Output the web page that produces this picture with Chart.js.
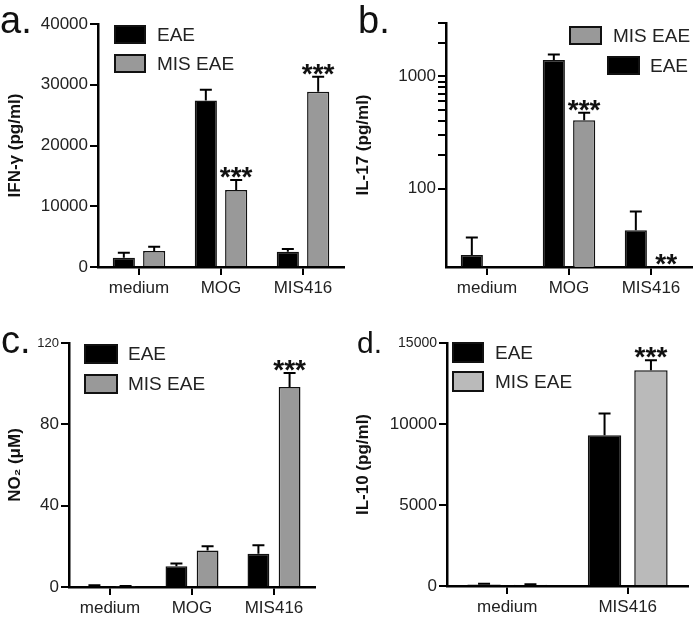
<!DOCTYPE html>
<html>
<head>
<meta charset="utf-8">
<script src="https://cdn.jsdelivr.net/npm/chart.js@4.4.0/dist/chart.umd.min.js"></script>
<style>
body { margin: 0; background: #fff; }
#fig { position: relative; width: 696px; height: 621px; overflow: hidden; font-family: "Liberation Sans", Arial, sans-serif; }
#fig canvas { position: absolute; }
.tag { position: absolute; color: #111; line-height: 1; font-family: "Liberation Sans", Arial, sans-serif; }
</style>
</head>
<body>
<div id="fig">
  <canvas id="ca" width="348" height="300" style="left:0;top:0"></canvas>
  <canvas id="cb" width="348" height="300" style="left:348px;top:0"></canvas>
  <canvas id="cc" width="348" height="321" style="left:0;top:300px"></canvas>
  <canvas id="cd" width="348" height="321" style="left:348px;top:300px"></canvas>
  <div class="tag" style="left:0;top:1px;font-size:38px">a.</div>
  <div class="tag" style="left:358px;top:1px;font-size:38px">b.</div>
  <div class="tag" style="left:1px;top:321px;font-size:38px">c.</div>
  <div class="tag" style="left:357px;top:328px;font-size:30px">d.</div>
</div>
<script>
// categories
const cats3 = ['medium', 'MOG', 'MIS416'];
const cats2 = ['medium', 'MIS416'];

// a. IFN-gamma (pg/ml)
const ifnEAE = [1530, 27400, 2520];
const ifnEAEsem = [820, 1760, 440];
const ifnMIS = [2630, 12680, 28860];
const ifnMISsem = [710, 1650, 2470];
const ifnStars = ['', '***', '***'];
const ifnTicks = [0, 10000, 20000, 30000, 40000];

// b. IL-17 (pg/ml), log axis
const il17EAE = [25.6, 1400, 42.5];
const il17EAEsem = [11, 172, 20];
const il17MIS = [null, 407, null];
const il17MISsem = [0, 67, 0];
const il17Stars = ['', '***', '**'];
const il17Ticks = [100, 200, 300, 400, 500, 600, 700, 800, 900, 1000, 2000, 3000];
const il17Labels = [100, 1000];

// c. NO2 (uM)
const noEAE = [0.5, 10.2, 16.4];
const noEAEsem = [0.3, 1.3, 4.1];
const noMIS = [0.3, 18, 98.4];
const noMISsem = [0.2, 2, 6.8];
const noStars = ['', '', '***'];

// d. IL-10 (pg/ml)
const il10EAE = [100, 9310];
const il10EAEsem = [40, 1340];
const il10MIS = [80, 13320];
const il10MISsem = [30, 610];
const il10Stars = ['', '***'];

const FONT = '"Liberation Sans", Arial, sans-serif';

// error bars (upper only) and significance stars
const errorBars = {
  id: 'errorBars',
  afterDatasetsDraw(chart) {
    const ctx = chart.ctx;
    const ys = chart.scales.y;
    chart.data.datasets.forEach((ds, i) => {
      const meta = chart.getDatasetMeta(i);
      meta.data.forEach((bar, j) => {
        const v = ds.data[j];
        let top = ys.bottom;
        ctx.save();
        if (v != null) {
          top = bar.y;
          if (ds.errors && ds.errors[j]) {
            top = ys.getPixelForValue(v + ds.errors[j]);
            ctx.strokeStyle = '#000';
            ctx.lineWidth = 2;
            ctx.beginPath();
            ctx.moveTo(bar.x, bar.y);
            ctx.lineTo(bar.x, top);
            ctx.moveTo(bar.x - 6, top);
            ctx.lineTo(bar.x + 6, top);
            ctx.stroke();
          }
        }
        const s = ds.stars && ds.stars[j];
        if (s) {
          ctx.fillStyle = '#111';
          ctx.font = 'bold 28px ' + FONT;
          ctx.textAlign = 'center';
          ctx.textBaseline = 'alphabetic';
          ctx.fillText(s, bar.x, top + 6);
        }
        ctx.restore();
      });
    });
  }
};

// legend boxes drawn inside the plot
const boxLegend = {
  id: 'boxLegend',
  afterDraw(chart, args, o) {
    if (!o.rows) return;
    const ctx = chart.ctx;
    ctx.save();
    ctx.font = '19px ' + FONT;
    ctx.textBaseline = 'middle';
    ctx.textAlign = 'left';
    o.rows.forEach(r => {
      const ds = chart.data.datasets[r.ds];
      ctx.fillStyle = ds.backgroundColor;
      ctx.strokeStyle = '#111';
      ctx.lineWidth = 2;
      ctx.fillRect(r.x, r.y, o.w, o.h);
      ctx.strokeRect(r.x, r.y, o.w, o.h);
      ctx.fillStyle = '#222';
      ctx.fillText(ds.label, r.tx, r.y + o.h / 2 + 1);
    });
    ctx.restore();
  }
};

function barSet(label, color, data, errors, stars, cp, bp) {
  return {
    label: label, data: data, errors: errors, stars: stars,
    backgroundColor: color, borderColor: '#111', borderWidth: 1.5,
    categoryPercentage: cp, barPercentage: bp
  };
}

function makePanel(id, labels, datasets, yScale, lay, legend, xFont) {
  const axisCommon = {
    grid: { drawOnChartArea: false, tickLength: 8, color: '#000', lineWidth: 2 },
    border: { color: '#000', width: 2.5 }
  };
  yScale.grid = axisCommon.grid;
  yScale.border = axisCommon.border;
  yScale.afterFit = s => { s.width = lay.left; };
  return new Chart(document.getElementById(id), {
    type: 'bar',
    data: { labels: labels, datasets: datasets },
    options: {
      responsive: false,
      animation: false,
      layout: { padding: { top: lay.top, right: lay.right, left: 0, bottom: 0 } },
      plugins: { legend: { display: false }, tooltip: { enabled: false }, boxLegend: legend },
      scales: {
        x: {
          ticks: { font: { size: xFont, family: FONT }, color: '#222', padding: 3, maxRotation: 0 },
          grid: { drawOnChartArea: false, offset: false, tickLength: 8, color: '#000', lineWidth: 2 },
          border: axisCommon.border,
          afterFit: s => { s.height = lay.bottom; }
        },
        y: yScale
      }
    },
    plugins: [errorBars, boxLegend]
  });
}

function yTitle(text) {
  return { display: true, text: text, font: { size: 17, weight: 'bold', family: FONT }, color: '#111', padding: { top: 5, bottom: 0 } };
}

// a.
makePanel('ca', cats3, [
  barSet('EAE', '#000', ifnEAE, ifnEAEsem, null, 0.74, 0.73),
  barSet('MIS EAE', '#999', ifnMIS, ifnMISsem, ifnStars, 0.74, 0.73)
], {
  type: 'linear', min: 0, max: 40000,
  afterBuildTicks: s => { s.ticks = ifnTicks.map(v => ({ value: v })); },
  ticks: { font: { size: 17, family: FONT }, color: '#222', padding: 2, callback: v => String(v) },
  title: yTitle('IFN-\u03b3 (pg/ml)')
}, { left: 98, top: 24, right: 4, bottom: 33 },
{ w: 30, h: 17, rows: [{ ds: 0, x: 115, y: 26, tx: 157 }, { ds: 1, x: 115, y: 55, tx: 157 }] }, 17);

// b.
makePanel('cb', cats3, [
  barSet('EAE', '#000', il17EAE, il17EAEsem, null, 0.74, 0.73),
  barSet('MIS EAE', '#999', il17MIS, il17MISsem, il17Stars, 0.74, 0.73)
], {
  type: 'logarithmic', min: 20, max: 3000,
  afterBuildTicks: s => { s.ticks = il17Ticks.map(v => ({ value: v })); },
  ticks: {
    font: { size: 17, family: FONT }, color: '#222', padding: 2, autoSkip: false,
    callback: v => il17Labels.includes(v) ? String(v) : ''
  },
  title: yTitle('IL-17 (pg/ml)')
}, { left: 98, top: 23, right: 4, bottom: 33 },
{ w: 31, h: 17, rows: [{ ds: 1, x: 222, y: 27, tx: 265 }, { ds: 0, x: 260, y: 57, tx: 302 }] }, 17);

// c.
makePanel('cc', cats3, [
  barSet('EAE', '#000', noEAE, noEAEsem, null, 0.76, 0.7),
  barSet('MIS EAE', '#999', noMIS, noMISsem, noStars, 0.76, 0.7)
], {
  type: 'linear', min: 0, max: 120,
  ticks: {
    stepSize: 40, color: '#222', padding: 2, callback: v => String(v),
    font: c => ({ size: c.tick && c.tick.value === 120 ? 13 : 17, family: FONT })
  },
  title: yTitle('NO\u2082 (\u03bcM)')
}, { left: 69, top: 43, right: 33, bottom: 34 },
{ w: 32, h: 18, rows: [{ ds: 0, x: 85, y: 45, tx: 128 }, { ds: 1, x: 85, y: 75, tx: 128 }] }, 17);

// d.
makePanel('cd', cats2, [
  barSet('EAE', '#000', il10EAE, il10EAEsem, null, 0.77, 0.72),
  barSet('MIS EAE', '#bababa', il10MIS, il10MISsem, il10Stars, 0.77, 0.72)
], {
  type: 'linear', min: 0, max: 15000,
  ticks: {
    stepSize: 5000, color: '#222', padding: 2, callback: v => String(v),
    font: c => ({ size: c.tick && c.tick.value === 15000 ? 14 : 17, family: FONT })
  },
  title: yTitle('IL-10 (pg/ml)')
}, { left: 99, top: 43, right: 8, bottom: 35 },
{ w: 30, h: 19, rows: [{ ds: 0, x: 105, y: 43, tx: 147 }, { ds: 1, x: 105, y: 72, tx: 147 }] }, 17);
</script>
</body>
</html>
